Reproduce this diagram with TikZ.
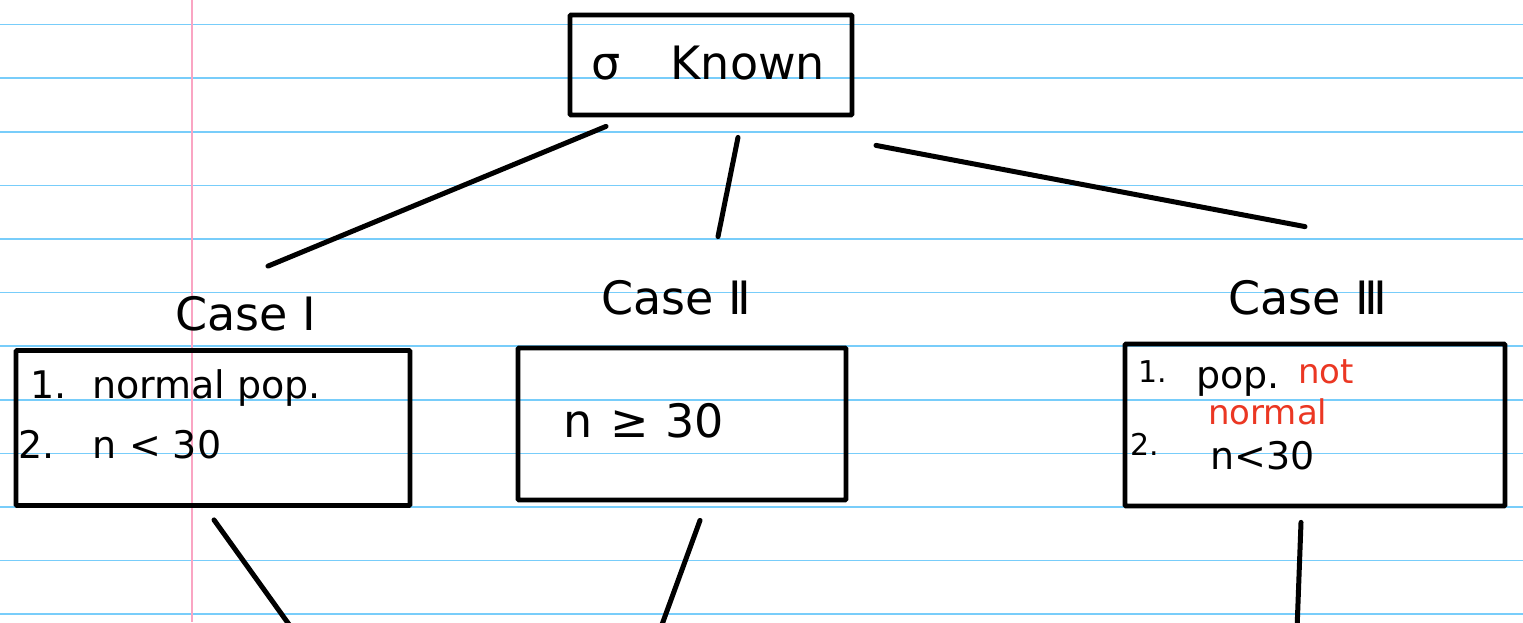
\documentclass[tikz,border=0pt]{standalone}
\usepackage{fontspec}
\setmainfont{DejaVu Sans}
\definecolor{ruleblue}{RGB}{120,205,250}
\definecolor{marginpink}{RGB}{250,165,195}
\definecolor{inkred}{RGB}{235,55,35}
\begin{document}
\begin{tikzpicture}[x=1pt,y=-1pt,
  ink/.style={line width=5pt,line cap=round,black},
  box/.style={draw,line width=4.8pt,inner sep=0pt,rounded corners=1pt},
  rule/.style={ruleblue,line width=1.6pt},
  big/.style={font=\fontsize{46}{46}\selectfont,inner sep=0pt},
  small/.style={font=\fontsize{38}{38}\selectfont,inner sep=0pt},
  redtxt/.style={font=\fontsize{34}{34}\selectfont,inner sep=0pt,text=inkred},
  tiny/.style={font=\fontsize{30}{30}\selectfont,inner sep=0pt}]
\useasboundingbox (0,0) rectangle (1523,622);
\fill[white] (0,0) rectangle (1523,622);
\foreach \k in {0,...,11} \draw[rule] (0,{24.5+53.6*\k}) -- (1523,{24.5+53.6*\k});
\draw[marginpink,line width=1.6pt] (192,0) -- (192,622);

% top box
\node[box,minimum width=282pt,minimum height=100pt] (top) at (711,65) {};
\node[big,anchor=base] (toptxt) at (708,79) {σ\hspace{1.1em}Known};

% case labels
\node[big,anchor=base] (c1) at (246,330) {Case Ⅰ};
\node[big,anchor=base] (c2) at (676,314) {Case Ⅱ};
\node[big,anchor=base] (c3) at (1308,314) {Case Ⅲ};

% case boxes
\node[box,minimum width=394pt,minimum height=155pt] (b1) at (213,428) {};
\node[box,minimum width=328pt,minimum height=152pt] (b2) at (682,424) {};
\node[box,minimum width=380pt,minimum height=162pt] (b3) at (1315,425) {};

% case I text
\node[small,anchor=base west] (b1n1) at (30,398) {1.};
\node[small,anchor=base west] (b1t1) at (92,398) {normal pop.};
\node[small,anchor=base west] (b1n2) at (18,458) {2.};
\node[small,anchor=base west] (b1t2) at (92,458) {n\hspace{0.35em}<\hspace{0.3em}30};

% case II text
\node[big,anchor=base west] (b2t) at (563,437) {n\hspace{0.4em}≥\hspace{0.35em}30};

% case III text
\node[tiny,anchor=base west] (b3n1) at (1138,382) {1.};
\node[small,anchor=base west] (b3t1) at (1196,388) {pop.};
\node[redtxt,anchor=base west] (b3r1) at (1298,383) {not};
\node[redtxt,anchor=base west] (b3r2) at (1208,424) {normal};
\node[tiny,anchor=base west] (b3n2) at (1130,455) {2.};
\node[small,anchor=base west] (b3t2) at (1210,469) {n<30};

% connectors from top
\draw[ink] ([shift={(-105,9)}]top.south) -- ([shift={(55,-82)}]b1.north);
\draw[ink] ([shift={(27,20)}]top.south) -- ([shift={(36,-109)}]b2.north);
\draw[ink] ([shift={(165,28)}]top.south) -- ([shift={(-10,-115)}]b3.north);

% connectors downward (off page)
\coordinate (e1) at (293,630);
\coordinate (e2) at (660,630);
\coordinate (e3) at (1297,630);
\draw[ink] ([shift={(1,12)}]b1.south) -- (e1);
\draw[ink] ([shift={(18,18)}]b2.south) -- (e2);
\draw[ink] ([shift={(-14,14)}]b3.south) -- (e3);
\end{tikzpicture}
\end{document}
